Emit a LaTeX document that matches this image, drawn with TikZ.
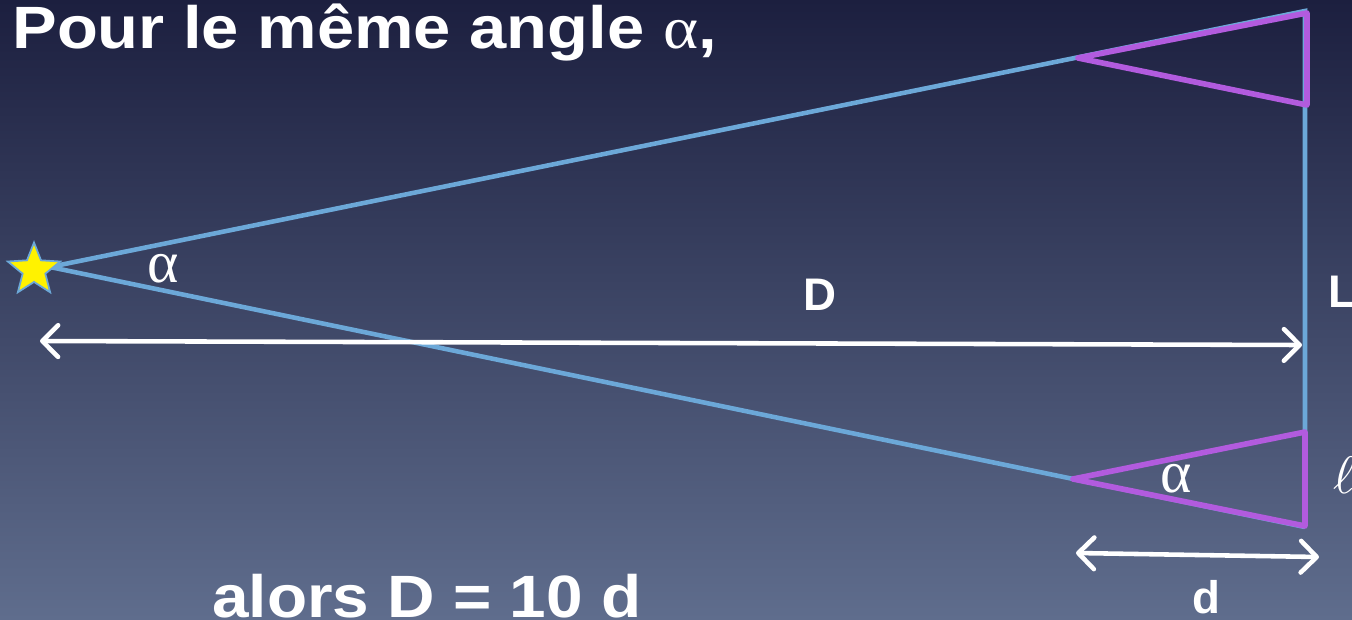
\documentclass[tikz,border=0pt]{standalone}
\usepackage{fontspec}
\setmainfont{Liberation Sans}
\newfontfamily\greekfont{Liberation Serif}
\usetikzlibrary{shapes.geometric, arrows.meta, positioning}

\definecolor{skytop}{HTML}{1C1F3F}
\definecolor{skybottom}{HTML}{5F6D8D}
\definecolor{rayblue}{HTML}{6CA8D8}
\definecolor{tripurple}{HTML}{B25BDE}

\tikzset{
  ray/.style={rayblue, line width=2.6pt},
  smalltri/.style={tripurple, line width=3.2pt, line join=round},
  dimarrow/.style={white, line width=2.6pt, line cap=round,
    {Straight Barb[length=9pt, width=18pt, round]}-{Straight Barb[length=9pt, width=18pt, round]}},
  lbl/.style={text=white, font=\bfseries\fontsize{26}{30}\selectfont},
  bigtxt/.style={text=white, font=\bfseries\fontsize{34}{40}\selectfont},
  greek/.style={text=white, font=\greekfont\fontsize{34}{36}\selectfont}
}

\begin{document}
\begin{tikzpicture}[x=0.02cm, y=-0.02cm]
    % Fond
    \useasboundingbox (0,0) rectangle (1352,619);
    \clip (0,0) rectangle (1352,619);
    \shade[top color=skytop, bottom color=skybottom] (0,0) rectangle (1352,619);

    % Points
    \coordinate (S) at (50,267);
    \coordinate (A) at (1305,11);
    \coordinate (B) at (1305,527);
    \coordinate (P) at (1078,58);
    \coordinate (Q) at (1073,479);

    % Rayons
    \draw[ray] (S) -- (A) -- (1305,432);
    \draw[ray] (S) -- (B);

    % Petits triangles
    \draw[smalltri] (1307,13) -- (P) -- (1307,105) -- cycle;
    \draw[smalltri] (1305,432) -- (Q) -- (1305,526) -- cycle;

    % Etoile
    \node[star, star points=5, star point ratio=2.3, minimum size=1.1cm,
          inner sep=0pt, fill=yellow, draw=rayblue, line width=1pt] (etoile) at (34,270) {};

    % Distances
    \coordinate (D1) at (40,341);
    \coordinate (D2) at (1302,345);
    \draw[dimarrow] (D1) -- (D2);
    \coordinate (d1) at (1076,553);
    \coordinate (d2) at (1319,557);
    \draw[dimarrow] (d1) -- (d2);

    % Textes
    \node[bigtxt, xscale=1.12, anchor=base west, inner sep=0pt] (titre) at (12,48)
        {Pour le même angle {\greekfont\mdseries α},};
    \node[bigtxt, xscale=1.1, anchor=base west, inner sep=0pt] (alors) at (212,617) {alors D = 10 d};
    \node[lbl, anchor=base, inner sep=0pt] (labD) at (820,310) {D};
    \node[lbl, anchor=base west, inner sep=0pt] (labL) at (1328,307) {L};
    \node[lbl, anchor=base, inner sep=0pt] (labd) at (1206,613) {d};
    \node[greek, anchor=base, inner sep=0pt] (alpha1) at (163,282) {α};
    \node[greek, anchor=base, inner sep=0pt] (alpha2) at (1176,492) {α};
    \node[text=white, anchor=base west, inner sep=0pt, scale=3] (ell) at (1332,493) {$\ell$};
\end{tikzpicture}
\end{document}
